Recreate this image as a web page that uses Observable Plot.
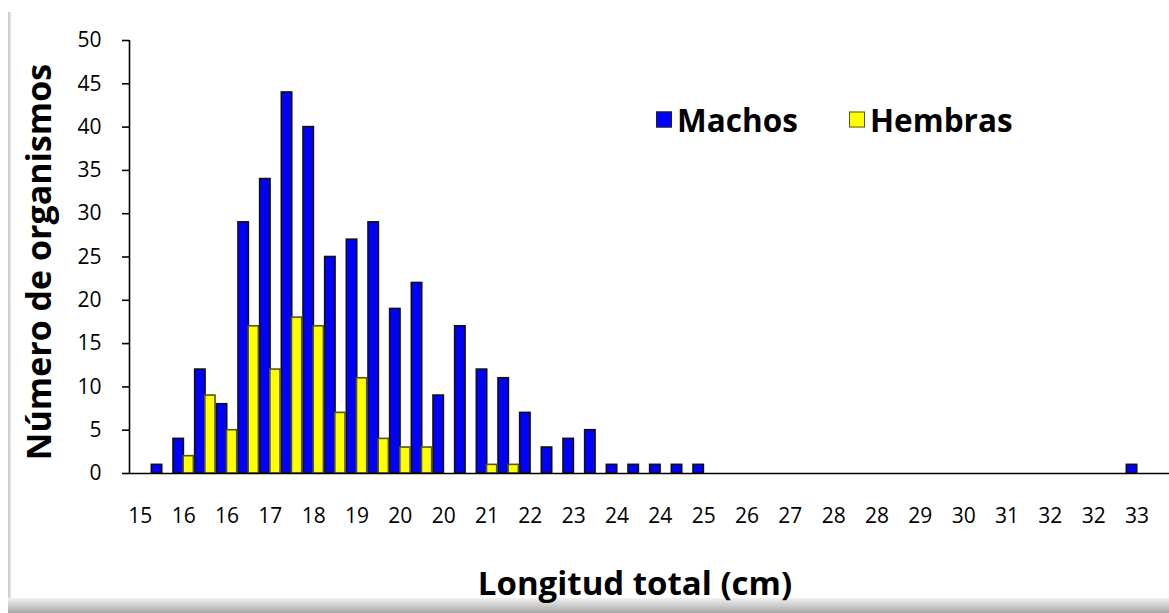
<!DOCTYPE html>
<html>
<head>
<meta charset="utf-8">
<script src="https://cdn.jsdelivr.net/npm/d3@7"></script>
<script src="https://cdn.jsdelivr.net/npm/@observablehq/plot@0.6"></script>
<style>
  html, body { margin: 0; padding: 0; background: #fff; }
  #wrap { position: relative; width: 1169px; height: 613px; overflow: hidden; background: #fff; font-family: "Open Sans", sans-serif; }
  #chart { position: absolute; left: 0; top: 0; }
  .lborder { position: absolute; left: 8px; top: 12px; width: 3px; height: 590px; background: linear-gradient(to right, #c8c8c8, #e8e8e8); }
  .bshadow { position: absolute; left: 8px; top: 598px; width: 1161px; height: 15px; background: linear-gradient(to bottom, #f2f2f2, #a6a6a6); }
  .ytitle { position: absolute; left: 38px; top: 262px; transform: translate(-50%, -50%) rotate(-90deg); font-weight: 700; font-size: 34px; white-space: nowrap; color: #000; }
  .xtitle { position: absolute; left: 635px; top: 582px; transform: translate(-50%, -50%); font-weight: 700; font-size: 33px; white-space: nowrap; color: #000; }
  .legend { position: absolute; top: 119px; transform: translateY(-50%); display: flex; align-items: center; font-weight: 700; font-size: 31.5px; color: #000; white-space: nowrap; }
  .sw { width: 14px; height: 14px; margin-right: 5px; border: 1.5px solid #222; }
</style>
</head>
<body>
<div id="wrap">
  <div class="lborder"></div>
  <div class="bshadow"></div>
  <div id="chart"></div>
  <div class="ytitle">Número de organismos</div>
  <div class="xtitle">Longitud total (cm)</div>
  <div class="legend" style="left:656px;"><div class="sw" style="background:#0000ff;"></div>Machos</div>
  <div class="legend" style="left:849px;"><div class="sw" style="background:#ffff00;border-color:#55551a;"></div>Hembras</div>
</div>
<script>
// 48 length-class bins (0.5 cm classes), labels shown on every other bin
const machos  = [0,1,4,12,8,29,34,44,40,25,27,29,19,22,9,17,12,11,7,3,4,5,1,1,1,1,1,0,0,0,0,0,0,0,0,0,0,0,0,0,0,0,0,0,0,0,1,0];
const hembras = [0,0,2,9,5,17,12,18,17,7,11,4,3,3,0,0,1,1,0,0,0,0,0,0,0,0,0,0,0,0,0,0,0,0,0,0,0,0,0,0,0,0,0,0,0,0,0,0];
const tickLabels = ["15","16","16","17","18","19","20","20","21","22","23","24","24","25","26","27","28","28","29","30","31","32","32","33"];
const yTicks = [0,5,10,15,20,25,30,35,40,45,50];

const nBins = machos.length;
const rows = d3.range(nBins).map(i => ({ i, machos: machos[i], hembras: hembras[i] }));
const tickPos = tickLabels.map((_, j) => 2 * j + 0.5);

const plot = Plot.plot({
  width: 1169,
  height: 545,
  marginLeft: 129,
  marginRight: 0,
  marginTop: 40,
  marginBottom: 72,
  style: { fontFamily: "'Open Sans', sans-serif", color: "#000", background: "transparent" },
  x: { domain: [0, nBins] },
  y: { domain: [0, 50] },
  marks: [
    Plot.rectY(rows.filter(d => d.machos > 0), { x1: d => d.i + 0.03, x2: d => d.i + 0.51, y: "machos", fill: "#0000ff", stroke: "#111", strokeWidth: 1.6 }),
    Plot.rectY(rows.filter(d => d.hembras > 0), { x1: d => d.i + 0.5, x2: d => d.i + 0.97, y: "hembras", fill: "#ffff00", stroke: "#55551a", strokeWidth: 1.6 }),
    Plot.ruleY([0], { stroke: "#000", strokeWidth: 1.6 }),
    Plot.ruleX([0], { stroke: "#000", strokeWidth: 1.6 }),
    Plot.axisY({ ticks: yTicks, tickSize: 7, tickPadding: 21, fontSize: 21, label: null, strokeWidth: 1.6 }),
    Plot.axisX({ ticks: tickPos, tickSize: 0, tickPadding: 35, fontSize: 21, label: null, tickFormat: d => tickLabels[Math.round((d - 0.5) / 2)] })
  ]
});
document.getElementById("chart").appendChild(plot);
</script>
</body>
</html>
